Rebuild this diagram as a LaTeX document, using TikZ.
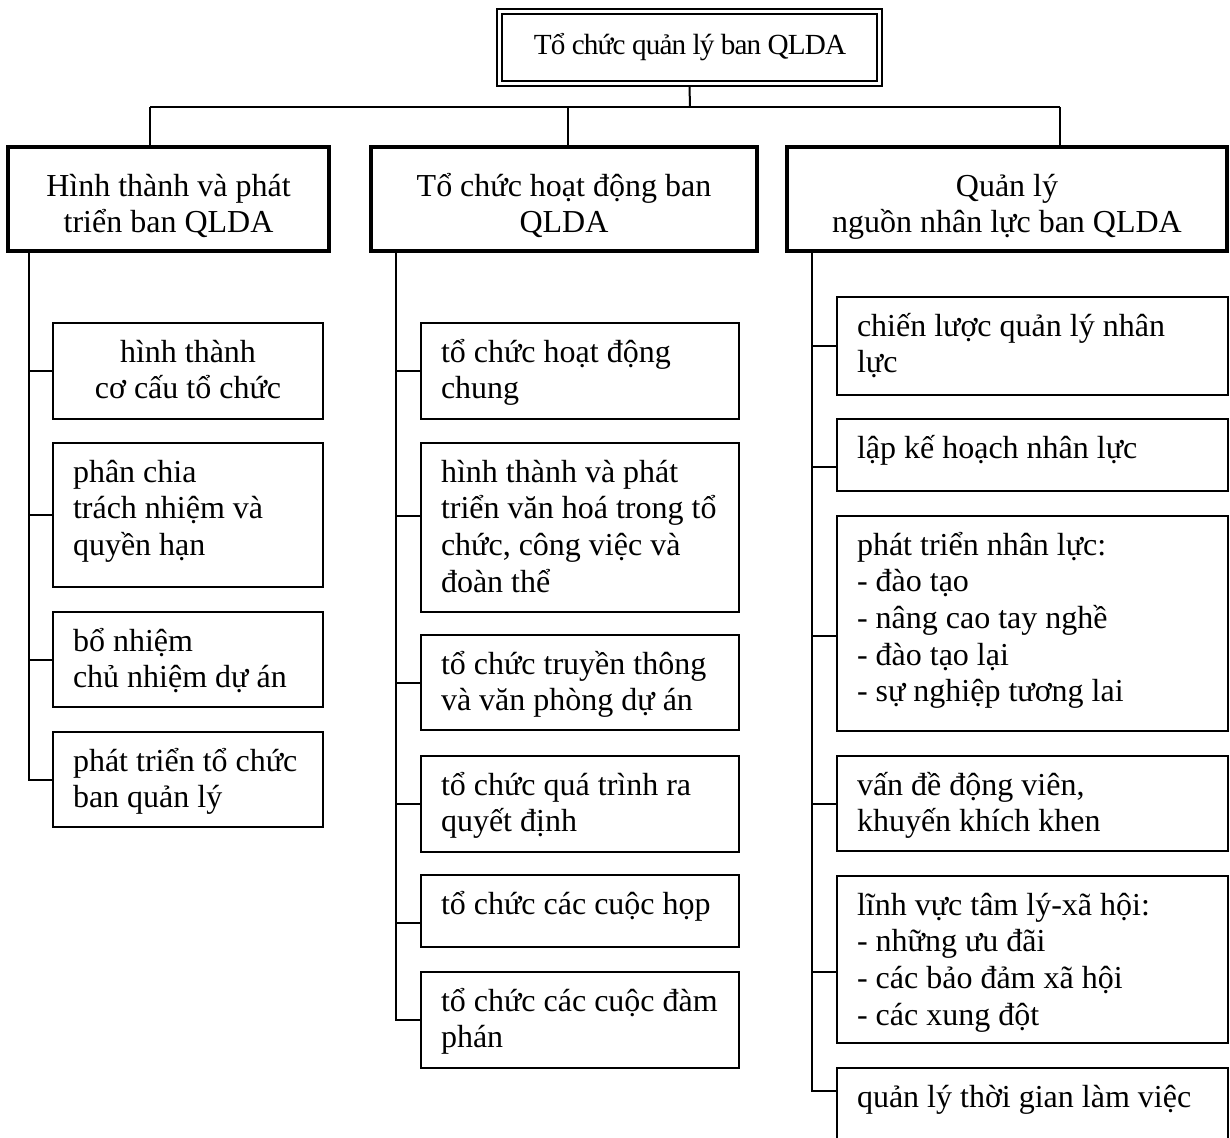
\documentclass[tikz,border=0pt]{standalone}
\usepackage{fontspec}
\setmainfont{Liberation Serif}
\usetikzlibrary{calc}
\begin{document}
\begin{tikzpicture}[x=0.5pt,y=-0.5pt,
  every node/.style={inner sep=0pt, outer sep=0pt},
  leaf/.style={draw, line width=1pt, rectangle, anchor=north west},
  head/.style={draw, line width=2pt, rectangle, anchor=north west},
  root/.style={draw, double, line width=1pt, double distance=1.5pt, rectangle, anchor=north west},
  link/.style={line width=1pt},
  txt/.style={anchor=base west, font=\fontsize{16}{18.35}\selectfont},
  ctxt/.style={anchor=base, font=\fontsize{16}{18.35}\selectfont},
  ttl/.style={anchor=base, font=\fontsize{14.6}{18.35}\selectfont\addfontfeature{LetterSpace=-3}}]
\newcommand{\lines}[1]{\parbox[t]{220pt}{\raggedright #1}}
\newcommand{\clines}[1]{\parbox[t]{220pt}{\centering #1}}
\useasboundingbox (0,0) rectangle (1230,1137);

% root box
\node[root, minimum width=190pt, minimum height=35.75pt] (top) at (499.5,11.5) {};
\node[ttl] (topt) at (690,54) {Tổ chức quản lý ban QLDA};

% branch headers
\node[head, minimum width=160.5pt, minimum height=52pt] (h1) at (8,147) {};
\node[ctxt] (h1t) at (168.5,196) {\clines{Hình thành và phát\\triển ban QLDA}};
\node[head, minimum width=193pt, minimum height=52pt] (h2) at (371,147) {};
\node[ctxt] (h2t) at (564,196) {\clines{Tổ chức hoạt động ban\\QLDA}};
\node[head, minimum width=220pt, minimum height=52pt] (h3) at (787,147) {};
\node[ctxt] (h3t) at (1007,196) {\clines{Quản lý\\nguồn nhân lực ban QLDA}};

% first column
\node[leaf, minimum width=135pt, minimum height=48pt] (a1) at (53,323) {};
\node[ctxt] (a1t) at (188,362) {\clines{hình thành\\cơ cấu tổ chức}};
\node[leaf, minimum width=135pt, minimum height=72pt] (a2) at (53,443) {};
\node[txt] (a2t) at (73,482) {\lines{phân chia\\trách nhiệm và\\quyền hạn}};
\node[leaf, minimum width=135pt, minimum height=47.5pt] (a3) at (53,612) {};
\node[txt] (a3t) at (73,651) {\lines{bổ nhiệm\\chủ nhiệm dự án}};
\node[leaf, minimum width=135pt, minimum height=47.5pt] (a4) at (53,732) {};
\node[txt] (a4t) at (73,771) {\lines{phát triển tổ chức\\ban quản lý}};

% second column
\node[leaf, minimum width=159pt, minimum height=48pt] (b1) at (421,323) {};
\node[txt] (b1t) at (441,362) {\lines{tổ chức hoạt động\\chung}};
\node[leaf, minimum width=159pt, minimum height=84.5pt] (b2) at (421,443) {};
\node[txt] (b2t) at (441,482) {\lines{hình thành và phát\\triển văn hoá trong tổ\\chức, công việc và\\đoàn thể}};
\node[leaf, minimum width=159pt, minimum height=47.5pt] (b3) at (421,635) {};
\node[txt] (b3t) at (441,674) {\lines{tổ chức truyền thông\\và văn phòng dự án}};
\node[leaf, minimum width=159pt, minimum height=48pt] (b4) at (421,756) {};
\node[txt] (b4t) at (441,795) {\lines{tổ chức quá trình ra\\quyết định}};
\node[leaf, minimum width=159pt, minimum height=36pt] (b5) at (421,875) {};
\node[txt] (b5t) at (441,914) {\lines{tổ chức các cuộc họp}};
\node[leaf, minimum width=159pt, minimum height=48pt] (b6) at (421,972) {};
\node[txt] (b6t) at (441,1011) {\lines{tổ chức các cuộc đàm\\phán}};

% third column
\node[leaf, minimum width=195.5pt, minimum height=49pt] (c1) at (837,297) {};
\node[txt] (c1t) at (857,336) {\lines{chiến lược quản lý nhân\\lực}};
\node[leaf, minimum width=195.5pt, minimum height=36pt] (c2) at (837,419) {};
\node[txt] (c2t) at (857,458) {\lines{lập kế hoạch nhân lực}};
\node[leaf, minimum width=195.5pt, minimum height=107.5pt] (c3) at (837,516) {};
\node[txt] (c3t) at (857,555) {\lines{phát triển nhân lực:\\- đào tạo\\- nâng cao tay nghề\\- đào tạo lại\\- sự nghiệp tương lai}};
\node[leaf, minimum width=195.5pt, minimum height=47.5pt] (c4) at (837,756) {};
\node[txt] (c4t) at (857,795) {\lines{vấn đề động viên,\\khuyến khích khen}};
\node[leaf, minimum width=195.5pt, minimum height=83.5pt] (c5) at (837,876) {};
\node[txt] (c5t) at (857,915) {\lines{lĩnh vực tâm lý-xã hội:\\- những ưu đãi\\- các bảo đảm xã hội\\- các xung đột}};
\node[leaf, minimum width=195.5pt, minimum height=48pt] (c6) at (837,1068) {};
\node[txt] (c6t) at (857,1107) {\lines{quản lý thời gian làm việc}};

% bus from the root to the headers
\coordinate (bus) at (690,107);
\coordinate (busL) at (150,107);
\coordinate (busM) at (568,107);
\coordinate (busR) at (1060,107);
\draw[link] ($(top.south)+(0,3)$) -- (bus);
\draw[link] (busL) -- (busR);
\draw[link] (busL) -- (busL |- h1.north);
\draw[link] (busM) -- (busM |- h2.north);
\draw[link] (busR) -- (busR |- h3.north);

% trunks and branches
\coordinate (k1) at (29,0);
\coordinate (k2) at (396,0);
\coordinate (k3) at (812,0);

\draw[link] (h1.south -| k1) |- (a4.west);
\foreach \n in {a1,a2,a3} \draw[link] (\n.west) -- (\n.west -| k1);

\draw[link] (h2.south -| k2) |- (b6.west);
\foreach \n in {b1,b3,b4} \draw[link] (\n.west) -- (\n.west -| k2);
\coordinate (b2br) at ($(b2.west)+(0,-12)$);
\coordinate (b5br) at ($(b5.west)+(0,12)$);
\draw[link] (b2br) -- (b2br -| k2);
\draw[link] (b5br) -- (b5br -| k2);

\coordinate (c6br) at ($(c6.north west)+(0,23)$);
\draw[link] (h3.south -| k3) |- (c6br);
\foreach \n in {c1,c4} \draw[link] (\n.west) -- (\n.west -| k3);
\coordinate (c2br) at ($(c2.west)+(0,12)$);
\coordinate (c3br) at ($(c3.west)+(0,12)$);
\coordinate (c5br) at ($(c5.west)+(0,12)$);
\foreach \n in {c2br,c3br,c5br} \draw[link] (\n) -- (\n -| k3);
\end{tikzpicture}
\end{document}
